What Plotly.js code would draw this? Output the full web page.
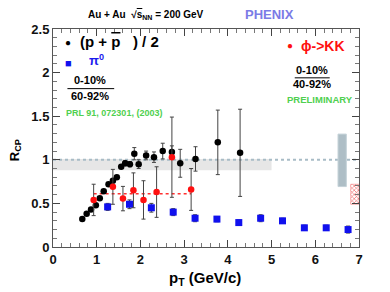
<!DOCTYPE html>
<html><head><meta charset="utf-8">
<script src="https://cdn.plot.ly/plotly-3.0.1.min.js"></script>
<style>html,body{margin:0;padding:0;background:#fff}</style>
</head><body><div id="chart" style="width:390px;height:292px"></div>
<script>
// (p + pbar)/2  0-10% / 60-92%
const protonPt  = [0.67,0.77,0.87,0.98,1.07,1.16,1.27,1.37,1.46,1.56,1.65,1.76,1.86,1.96,2.13,2.31,2.51,2.72,2.91,3.26,3.77,4.28];
const protonRcp = [0.32,0.38,0.43,0.48,0.56,0.64,0.72,0.76,0.80,0.92,0.96,0.95,1.07,0.95,1.05,1.03,1.10,1.09,0.96,1.01,1.20,1.08];
const protonErr = [0.01,0.01,0.01,0.01,0.01,0.01,0.01,0.01,0.02,0.02,0.03,0.03,0.07,0.05,0.05,0.06,0.09,0.07,0.16,0.14,0.37,0.50];
// pi0
const pi0Pt  = [1.25,1.75,2.25,2.75,3.25,3.75,4.25,4.75,5.25,5.75,6.25,6.75];
const pi0Rcp = [0.46,0.49,0.45,0.40,0.33,0.32,0.28,0.33,0.30,0.22,0.22,0.20];
const pi0Err = [0.04,0.05,0.05,0.04,0.04,0.03,0.03,0.04,0.03,0.03,0.03,0.04];
// phi -> KK  0-10% / 40-92%
const phiPt  = [0.93,1.37,1.60,1.84,2.07,2.37,2.72,3.16];
const phiRcp = [0.54,0.69,0.555,0.65,0.54,0.63,1.03,0.66];
const phiErr = [0.18,0.20,0.14,0.20,0.22,0.29,0.46,0.24];
// reference levels / systematic bands
const phiMean = 0.61, phiMeanRange = [0.93,3.16];
const bandRange = [0, 5.0], bandLow = 0.88, bandHigh = 1.01;
const unityLevel = 1;
const grayBoxX = [6.52,6.71], grayBoxY = [0.693,1.295];
const redBoxX = [6.81,7.0], redBoxY = [0.49,0.72];

const F = "Liberation Sans, Arial, sans-serif";
const traces = [
  {x:[(redBoxX[0]+redBoxX[1])/2], y:[redBoxY[1]-redBoxY[0]], base:[redBoxY[0]], type:'bar',
   width:[redBoxX[1]-redBoxX[0]], marker:{color:'rgba(255,190,190,0.7)', line:{color:'rgba(240,80,80,0.8)',width:0.5},
   pattern:{shape:'x', fgcolor:'rgba(235,70,70,0.9)', size:3, solidity:0.35}}, hoverinfo:'skip', showlegend:false},
  {x:phiMeanRange, y:[phiMean,phiMean], mode:'lines', line:{color:'#ff3030', width:1.5, dash:'dot'}, showlegend:false},
  {x:pi0Pt, y:pi0Rcp, mode:'markers', error_y:{type:'data', array:pi0Err, color:'#444', thickness:1, width:2},
   marker:{symbol:'square', size:7, color:'#1010ee'}, showlegend:false},
  {x:protonPt, y:protonRcp, mode:'markers', error_y:{type:'data', array:protonErr, color:'#444', thickness:1, width:2},
   marker:{symbol:'circle', size:6.5, color:'#000'}, showlegend:false},
  {x:phiPt, y:phiRcp, mode:'markers', error_y:{type:'data', array:phiErr, color:'#444', thickness:1, width:2},
   marker:{symbol:'circle', size:6.5, color:'#ff1010'}, showlegend:false}
];

const ann = (x,y,text,size,color,extra) => Object.assign({x:x,y:y,xref:'x',yref:'y',text:text,showarrow:false,
  xanchor:'center', yanchor:'middle', font:{family:F,size:size,color:color,weight:'bold'}}, extra||{});
const pann = (x,y,text,size,color,extra) => ann(x,y,text,size,color,Object.assign({xref:'paper',yref:'paper'},extra||{}));

const layout = {
  width:390, height:292, margin:{l:53,r:31,t:29,b:45},
  paper_bgcolor:'#fff', plot_bgcolor:'#fff',
  xaxis:{range:[0,7], dtick:1, ticks:'inside', ticklen:7, tickcolor:'#444', mirror:'ticks', showline:true, linecolor:'#555',
    linewidth:1, showgrid:false, zeroline:false, tickfont:{family:F,size:13,color:'#111',weight:'bold'},
    minor:{dtick:0.2, ticks:'inside', ticklen:4, tickcolor:'#777', showgrid:false}},
  yaxis:{range:[0,2.5], dtick:0.5, ticks:'inside', ticklen:7, tickcolor:'#444', mirror:'ticks', showline:true, linecolor:'#555',
    linewidth:1, showgrid:false, zeroline:false, tickfont:{family:F,size:13,color:'#111',weight:'bold'},
    minor:{dtick:0.1, ticks:'inside', ticklen:4, tickcolor:'#777', showgrid:false}},
  bargap:0,
  shapes:[
    {type:'rect', xref:'x', yref:'y', x0:bandRange[0], x1:bandRange[1], y0:bandLow, y1:bandHigh, fillcolor:'#e6e6e6', line:{width:0}, layer:'below'},
    {type:'line', xref:'x', yref:'y', x0:0, x1:7, y0:unityLevel, y1:unityLevel, line:{color:'#a8bcc6', width:2, dash:'3px,3px'}, layer:'below'},
    {type:'rect', xref:'x', yref:'y', x0:grayBoxX[0], x1:grayBoxX[1], y0:grayBoxY[0], y1:grayBoxY[1], fillcolor:'#aebec6', line:{color:'#c5d2d8', width:1}},
    {type:'line', xref:'x', yref:'y', x0:0.33, x1:1.40, y0:1.816, y1:1.816, line:{color:'#000', width:1}},
    {type:'line', xref:'x', yref:'y', x0:5.53, x1:6.33, y0:1.94, y1:1.94, line:{color:'#000', width:1}}
  ],
  annotations:[
    pann(0.304,1.062,'Au + Au  \u221A<span style="text-decoration:overline">s</span><sub>NN</sub> = 200 GeV',10,'#000'),
    pann(0.706,1.067,'PHENIX',13,'#7b7be6'),
    pann(-0.123,0.446,'R<sub>CP</sub>',13,'#000',{textangle:-90}),
    pann(0.497,-0.143,'p<sub>T</sub> (GeV/c)',15,'#000'),
    ann(0.35,2.345,'\u25CF',10,'#000'),
    ann(1.51,2.36,'(p + <span style="text-decoration:overline">p</span>   ) / 2',15,'#000'),
    ann(0.35,2.11,'\u25A0',11,'#1010ee'),
    ann(1.0,2.15,'\u03C0<sup>0</sup>',13,'#1a1aee'),
    ann(0.85,1.91,'0-10%',11,'#000'),
    ann(0.85,1.735,'60-92%',11,'#000'),
    ann(1.40,1.54,'PRL 91, 072301, (2003)',9,'#4fd04f'),
    ann(5.42,2.31,'\u25CF',10,'#ff1010'),
    ann(6.17,2.31,'\u03D5->KK',14,'#ff1010'),
    ann(5.92,2.03,'0-10%',11,'#000'),
    ann(5.92,1.865,'40-92%',11,'#000'),
    ann(6.10,1.69,'PRELIMINARY',9.5,'#4fd04f')
  ]
};
Plotly.newPlot('chart', traces, layout, {staticPlot:true, displayModeBar:false});
</script></body></html>
